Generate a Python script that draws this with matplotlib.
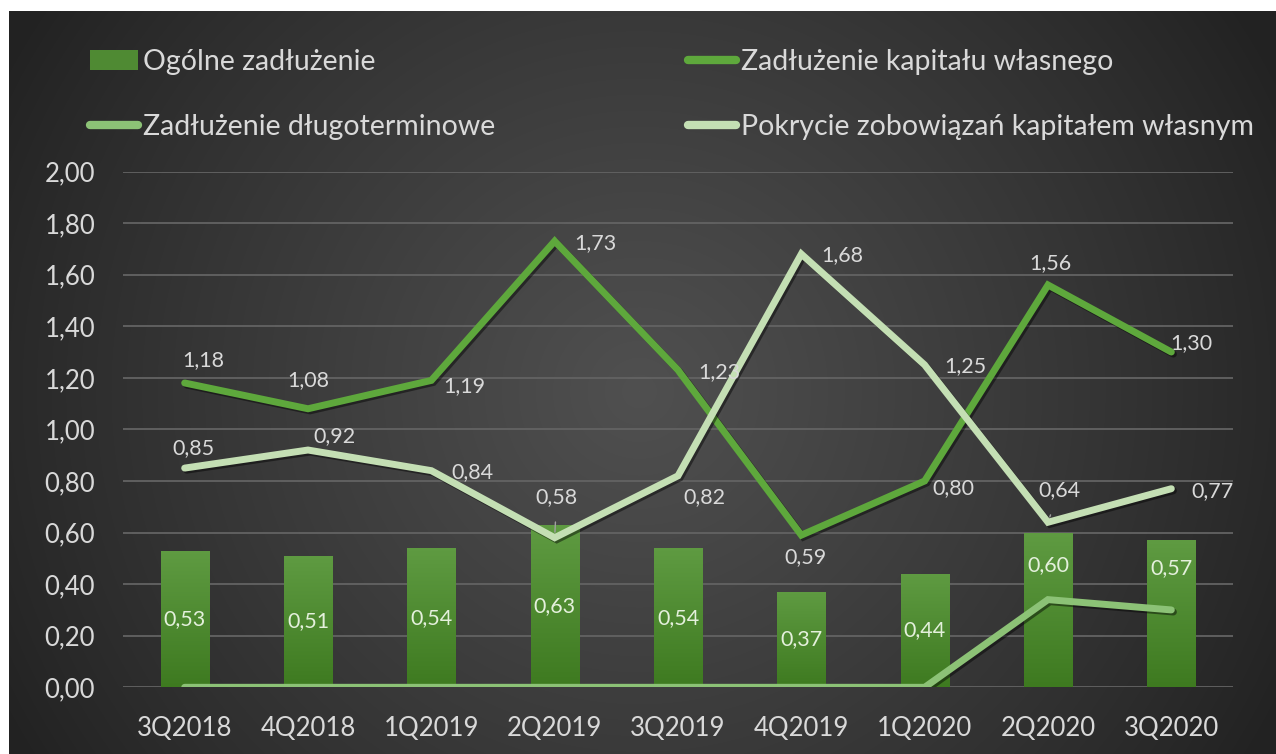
import numpy as np
import matplotlib
matplotlib.use('Agg')
import matplotlib.pyplot as plt
from matplotlib.lines import Line2D
from matplotlib.patches import Patch
from matplotlib.colors import LinearSegmentedColormap
import matplotlib.patheffects as pe

# ---------------- data ----------------
categories = ['3Q2018', '4Q2018', '1Q2019', '2Q2019', '3Q2019',
              '4Q2019', '1Q2020', '2Q2020', '3Q2020']
ogolne = [0.53, 0.51, 0.54, 0.63, 0.54, 0.37, 0.44, 0.60, 0.57]
kapital = [1.18, 1.08, 1.19, 1.73, 1.23, 0.59, 0.80, 1.56, 1.30]
dlugo = [0.00, 0.00, 0.00, 0.00, 0.00, 0.00, 0.00, 0.34, 0.30]
pokrycie = [0.85, 0.92, 0.84, 0.58, 0.82, 1.68, 1.25, 0.64, 0.77]
yticks = [0.0, 0.2, 0.4, 0.6, 0.8, 1.0, 1.2, 1.4, 1.6, 1.8, 2.0]
names = ['Ogólne zadłużenie', 'Zadłużenie kapitału własnego',
         'Zadłużenie długoterminowe', 'Pokrycie zobowiązań kapitałem własnym']

# label offsets (pixels, x right, y down)
off_kap = [(19, -23), (0, -29), (33, 6), (41, 2), (41, 2), (4, 22), (29, 7), (2, -22), (20, -9)]
off_pok = [(9, -20), (26, -14), (41, 1), (2, -41), (26, 21), (41, 1), (41, 1), (11, -32), (41, 2)]
off_bar = [0, 0, 0, 0, 0, 0, 0, -45, -46]

FONT = ['Lato', 'DejaVu Sans']
plt.rcParams['font.family'] = FONT

W, H = 1276, 754
fig = plt.figure(figsize=(W / 100, H / 100), dpi=100, facecolor='white')

# background radial gradient
bg = fig.add_axes([9 / W, 0, 1 - 9 / W, 1 - 11 / H], zorder=-5)
yy, xx = np.mgrid[0:743, 0:1267]
r = np.sqrt(((xx - 630) / 720.0) ** 2 + ((yy - 380) / 700.0) ** 2)
c_center, c_edge = 0x50 / 255, 0x22 / 255
val = c_edge + (c_center - c_edge) * np.clip(1 - r, 0, 1) ** 0.9
bg.imshow(np.dstack([val, val, val]), aspect='auto', interpolation='bilinear')
bg.set_axis_off()

ax = fig.add_axes([123 / W, 1 - 687.3 / H, 1110 / W, 515.8 / H])
ax.set_facecolor('none')
x = np.arange(len(categories))

# bars with vertical gradient
bars = ax.bar(x, ogolne, width=0.39, color='#4f8a33', zorder=2, linewidth=0)
grad = np.linspace(0, 1, 256).reshape(-1, 1)
cmap_bar = LinearSegmentedColormap.from_list('b', ['#3e7a20', '#5f9b42'])
for rect in bars:
    x0, y0 = rect.get_x(), rect.get_y()
    w, h = rect.get_width(), rect.get_height()
    im = ax.imshow(grad, extent=[x0, x0 + w, y0, y0 + h], origin='lower',
                   cmap=cmap_bar, aspect='auto', zorder=2.1)
    im.set_clip_path(rect)

shadow = [pe.SimpleLineShadow(offset=(1.5, -1.5), shadow_color='black', alpha=0.45), pe.Normal()]
ax.plot(x, dlugo, color='#8cc276', lw=5, solid_capstyle='round', solid_joinstyle='miter',
        zorder=3, path_effects=shadow)
ax.plot(x, kapital, color='#5ea83c', lw=5, solid_capstyle='round', solid_joinstyle='miter',
        zorder=4, path_effects=shadow)
ax.plot(x, pokrycie, color='#c4dfb4', lw=5, solid_capstyle='round', solid_joinstyle='miter',
        zorder=5, path_effects=shadow)

ax.set_xlim(-0.5, len(categories) - 0.5)
ax.set_ylim(0, 2.0)
ax.set_yticks(yticks)
ax.set_yticklabels([f'{t:.2f}'.replace('.', ',') for t in yticks])
ax.set_xticks(x)
ax.set_xticklabels(categories)
ax.tick_params(axis='y', length=0, pad=20, labelsize=18.5, labelcolor='#d9d9d9')
ax.tick_params(axis='x', length=0, pad=21, labelsize=18.5, labelcolor='#d9d9d9')
for s in ax.spines.values():
    s.set_visible(False)
ax.yaxis.grid(True, color='#636363', lw=1.3, zorder=0)
ax.set_axisbelow(True)

def fmt(vv):
    return f'{vv:.2f}'.replace('.', ',')

lblcol = '#d9d9d9'
for i, vv in enumerate(kapital):
    dx, dy = off_kap[i]
    ax.annotate(fmt(vv), (x[i], vv), xytext=(dx * 0.72, -dy * 0.72), textcoords='offset points',
                ha='center', va='center', fontsize=15.5, color=lblcol, zorder=6)
for i, vv in enumerate(pokrycie):
    dx, dy = off_pok[i]
    lead = None
    if i in (3, 7):
        lead = dict(arrowstyle='-', color='#a0a0a0', lw=1, shrinkA=9, shrinkB=4)
    ax.annotate(fmt(vv), (x[i], vv), xytext=(dx * 0.72, -dy * 0.72), textcoords='offset points',
                ha='center', va='center', fontsize=15.5, color=lblcol, zorder=6, arrowprops=lead)
for i, vv in enumerate(ogolne):
    ax.annotate(fmt(vv), (x[i], vv / 2), xytext=(0, -off_bar[i] * 0.72), textcoords='offset points',
                ha='center', va='center', fontsize=15.5, color='#e4f0dc', zorder=6)

# legends
fs = 20.5
h_bar = Patch(facecolor='#4f8a33', edgecolor='none')
h_kap = Line2D([], [], color='#5ea83c', lw=6, solid_capstyle='round')
h_dl = Line2D([], [], color='#8cc276', lw=6, solid_capstyle='round')
h_pok = Line2D([], [], color='#c4dfb4', lw=6, solid_capstyle='round')
common = dict(frameon=False, fontsize=fs, labelcolor='#d9d9d9', handlelength=1.7,
              handletextpad=0.15, labelspacing=1.38, borderpad=0, borderaxespad=0,
              loc='upper left')
leg1 = fig.legend([h_bar, h_dl], [names[0], names[2]], bbox_to_anchor=(90 / W, 1 - 49 / H), **common)
leg2 = fig.legend([h_kap, h_pok], [names[1], names[3]], bbox_to_anchor=(688 / W, 1 - 49 / H), **common)

fig.savefig('out.png', dpi=100, facecolor='white')
